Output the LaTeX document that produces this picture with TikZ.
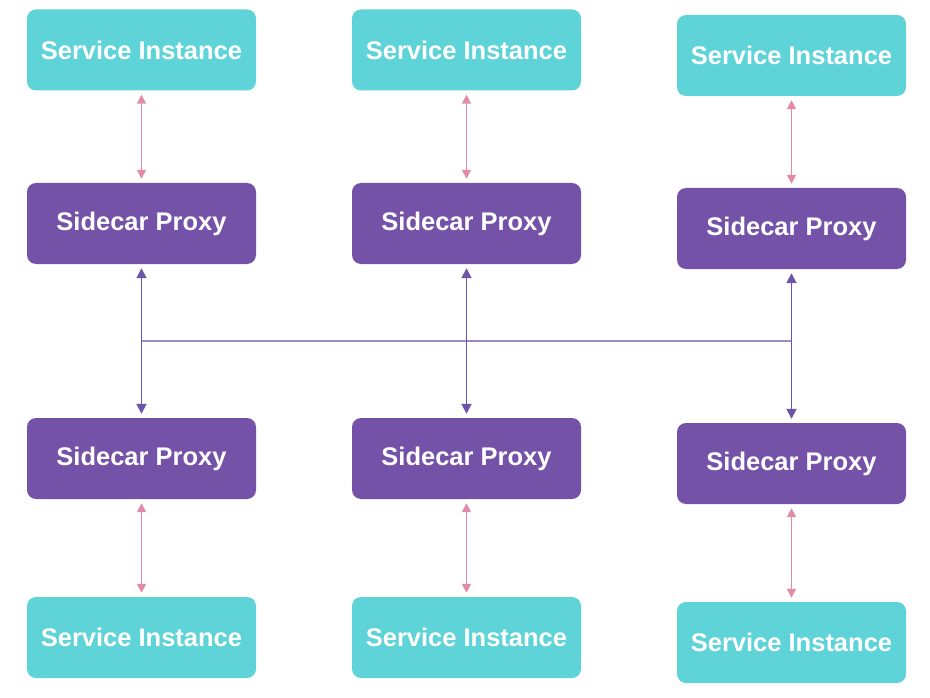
\documentclass[tikz,border=0pt]{standalone}
\usepackage{fontspec}
\setmainfont{Liberation Sans}
\usetikzlibrary{arrows.meta}
\definecolor{teal1}{HTML}{5ED3D8}
\definecolor{purp1}{HTML}{7452A8}
\definecolor{pink1}{HTML}{E28AAA}
\definecolor{arrp}{HTML}{6B55A8}
\definecolor{linep}{HTML}{9C8CCB}
\tikzset{
  sibox/.style={fill=teal1, rounded corners=9pt, minimum width=229pt, minimum height=81pt, inner sep=0pt, text=white, font=\fontsize{25.5}{28}\selectfont\bfseries},
  spbox/.style={fill=purp1, rounded corners=9pt, minimum width=229pt, minimum height=81pt, inner sep=0pt, text=white, font=\fontsize{25.5}{28}\selectfont\bfseries},
  pinkarr/.style={draw=pink1, line width=1.8pt, {Triangle[length=9pt,width=9pt]}-{Triangle[length=9pt,width=9pt]}, shorten >=4pt, shorten <=4pt},
  purparr/.style={draw=arrp, line width=1.8pt, {Triangle[length=10pt,width=10pt]}-{Triangle[length=10pt,width=10pt]}, shorten >=4pt, shorten <=4pt},
  hline/.style={draw=linep, line width=1.8pt}
}
\begin{document}
\begin{tikzpicture}[x=1pt,y=-1pt]
\useasboundingbox (0,0) rectangle (930,698);
% top service instances
\node[sibox] (s1) at (141.5,50) {Service Instance};
\node[sibox] (s2) at (466.5,50) {Service Instance};
\node[sibox] (s3) at (791.5,55.5) {Service Instance};
% top proxies
\node[spbox] (p1) at (141.5,223.5) {Sidecar Proxy};
\node[spbox] (p2) at (466.5,223.5) {Sidecar Proxy};
\node[spbox] (p3) at (791.5,228.5) {Sidecar Proxy};
% bottom proxies
\node[spbox] (q1) at (141.5,458.5) {Sidecar Proxy};
\node[spbox] (q2) at (466.5,458.5) {Sidecar Proxy};
\node[spbox] (q3) at (791.5,463.5) {Sidecar Proxy};
% bottom service instances
\node[sibox] (t1) at (141.5,637.5) {Service Instance};
\node[sibox] (t2) at (466.5,637.5) {Service Instance};
\node[sibox] (t3) at (791.5,642.5) {Service Instance};
% pink arrows
\draw[pinkarr] (s1.south) -- (p1.north);
\draw[pinkarr] (s2.south) -- (p2.north);
\draw[pinkarr] (s3.south) -- (p3.north);
\draw[pinkarr] (q1.south) -- (t1.north);
\draw[pinkarr] (q2.south) -- (t2.north);
\draw[pinkarr] (q3.south) -- (t3.north);
% horizontal line
\coordinate (h1) at (142,341);
\coordinate (h3) at (792,341);
\draw[hline] (h1) -- (h3);
% purple arrows
\draw[purparr] (p1.south) -- (q1.north);
\draw[purparr] (p2.south) -- (q2.north);
\draw[purparr] (p3.south) -- (q3.north);
\end{tikzpicture}
\end{document}
